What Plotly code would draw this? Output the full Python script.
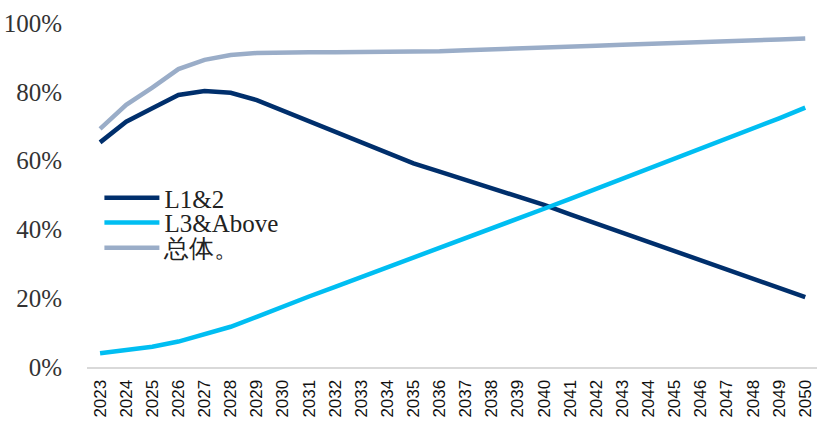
import plotly.graph_objects as go

# Years on the horizontal axis
years = list(range(2023, 2051))

# Share of vehicles by autonomy level (%)
l1_l2 = [65.3, 71.3, 75.2, 79.1, 80.2, 79.7, 77.6, 74.5, 71.5, 68.3,
         65.2, 62.1, 59.2, 56.8, 54.4, 52.0, 49.5, 47.1, 44.4, 41.7,
         39.0, 36.3, 33.6, 30.9, 28.2, 25.5, 22.9, 20.3]
l3_above = [4.0, 4.85, 5.9, 7.4, 9.5, 11.7, 14.6, 17.7, 20.5, 23.3,
            26.1, 28.9, 31.8, 34.6, 37.4, 40.2, 43.1, 46.0, 48.9, 51.8,
            54.7, 57.6, 60.5, 63.4, 66.3, 69.3, 72.3, 75.4]
total = [69.2, 76.2, 81.2, 86.6, 89.3, 90.7, 91.3, 91.5, 91.5, 91.5,
         91.5, 91.5, 91.5, 91.8, 92.1, 92.3, 92.6, 92.9, 93.2, 93.4,
         93.7, 93.9, 94.2, 94.5, 94.7, 95.0, 95.2, 95.5]

series_names = ["L1&2", "L3&Above", "总体。"]
y_ticks = [0, 20, 40, 60, 80, 100]
y_tick_text = ["0%", "20%", "40%", "60%", "80%", "100%"]

colors = ["#002f6c", "#00bef2", "#9aadc8"]
serif = "Liberation Serif"

fig = go.Figure()
for i, (name, vals) in enumerate(zip(series_names, [l1_l2, l3_above, total])):
    fig.add_trace(go.Scatter(
        x=years, y=vals, name=name, mode="lines",
        line=dict(color=colors[i], width=4.5),
        legend="legend" if i == 0 else f"legend{i + 1}",
    ))

# one single-entry legend per series so the rows can sit close together
legend_common = dict(
    xanchor="left", yanchor="middle", x=0.017,
    bgcolor="rgba(0,0,0,0)", borderwidth=0,
    font=dict(family=serif, size=25, color="#222222"),
    itemwidth=55, tracegroupgap=0,
)

fig.update_layout(
    width=817, height=421,
    margin=dict(l=87, r=0, t=23, b=54),
    paper_bgcolor="white", plot_bgcolor="white",
    showlegend=True,
    legend=dict(legend_common, y=0.491),
    legend2=dict(legend_common, y=0.419),
    legend3=dict(legend_common, y=0.346),
    xaxis=dict(
        range=[2022.5, 2050.45],
        tickmode="array", tickvals=years, ticktext=[str(y) for y in years],
        tickangle=-90,
        tickfont=dict(family="Liberation Sans", size=17, color="#111111"),
        ticks="outside", ticklen=4, tickcolor="rgba(0,0,0,0)",
        showgrid=False, zeroline=False, automargin=False,
        showline=True, linecolor="#d9d9d9", linewidth=2,
    ),
    yaxis=dict(
        range=[0, 100],
        tickmode="array", tickvals=y_ticks, ticktext=y_tick_text,
        tickfont=dict(family=serif, size=25, color="#333333"),
        ticks="outside", ticklen=19, tickcolor="rgba(0,0,0,0)",
        showgrid=False, zeroline=False, showline=False, automargin=False,
    ),
)

fig.write_html("out.html")
